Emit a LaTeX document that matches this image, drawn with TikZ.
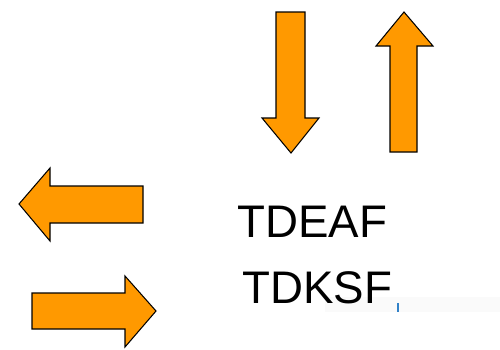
\documentclass[tikz,border=0pt]{standalone}
\usepackage{fontspec}
\setmainfont{Liberation Sans}
\usepackage{xcolor}
\usepackage{tikz}
\usetikzlibrary{positioning}
\definecolor{blockorange}{RGB}{255,153,0}
\definecolor{tickblue}{RGB}{50,130,200}

\begin{document}
\begin{tikzpicture}[
    x=0.02cm, y=-0.02cm,
    block/.style={draw=black, fill=blockorange, line width=0.6pt, line join=miter},
    label_text/.style={font=\fontsize{26}{30}\selectfont, inner sep=0pt, anchor=base west}
]
\useasboundingbox (0,0) rectangle (500,349);

% Leftover strip under the labels
\fill[black!2] (325,297) rectangle (500,312);
\draw[tickblue, line width=0.8pt] (398,303) -- (398,312);

% Block arrows
\draw[block] (276,12) -- (305,12) -- (305,118) -- (319,118) -- (291,153) -- (262,118) -- (276,118) -- cycle;
\draw[block] (390,152) -- (417,152) -- (417,46) -- (433,46) -- (404,12) -- (376,46) -- (390,46) -- cycle;
\draw[block] (143,186) -- (143,223) -- (50,223) -- (50,241) -- (19,204) -- (50,168) -- (50,186) -- cycle;
\draw[block] (32,293) -- (125,293) -- (125,276) -- (156,311) -- (125,347) -- (125,329) -- (32,329) -- cycle;

% Labels
\node[label_text] (deaf) at (237,237) {TDEAF};
\node[label_text] (dksf) at (242,303) {TDKSF};
\end{tikzpicture}
\end{document}
